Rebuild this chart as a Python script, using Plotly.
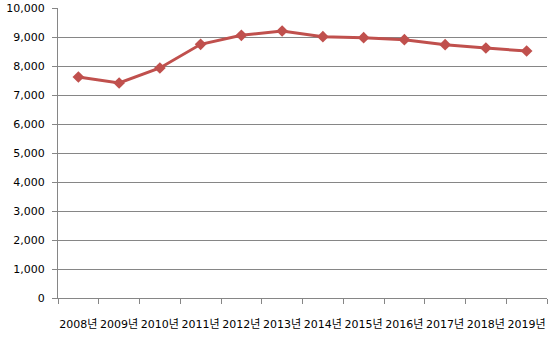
import plotly.graph_objects as go

years = ["2008년", "2009년", "2010년", "2011년", "2012년", "2013년",
         "2014년", "2015년", "2016년", "2017년", "2018년", "2019년"]
values = [7620, 7414, 7931, 8748, 9058, 9207, 9010, 8976, 8907, 8734, 8620, 8517]
y_ticks = [0, 1000, 2000, 3000, 4000, 5000, 6000, 7000, 8000, 9000, 10000]
y_tick_labels = ["0", "1,000", "2,000", "3,000", "4,000", "5,000", "6,000",
                 "7,000", "8,000", "9,000", "10,000"]

fig = go.Figure()
fig.add_trace(go.Scatter(
    x=years, y=values, mode="lines+markers",
    line=dict(color="#C0504D", width=3),
    marker=dict(symbol="diamond", size=9, color="#C0504D"),
    showlegend=False, cliponaxis=False,
))

font_family = "DejaVu Sans, Noto Sans CJK KR, sans-serif"
fig.update_layout(
    width=555, height=339,
    margin=dict(l=58, r=8, t=8, b=41, autoexpand=False),
    paper_bgcolor="white", plot_bgcolor="white",
    font=dict(family=font_family, size=11, color="black"),
)
fig.update_xaxes(
    type="category", tickson="boundaries", ticks="outside", ticklen=5,
    tickcolor="#868686", showline=True, linecolor="#868686", linewidth=1,
    showgrid=False, tickangle=0, ticklabelstandoff=16, automargin=False,
    range=[-0.5, len(years) - 0.5], tickfont=dict(size=11),
)
fig.update_yaxes(
    range=[0, 10000], tickvals=y_ticks, ticktext=y_tick_labels,
    ticks="outside", ticklen=5, tickcolor="#868686",
    showline=True, linecolor="#868686", linewidth=1, automargin=False,
    showgrid=True, gridcolor="#868686", gridwidth=1, zeroline=False,
    ticklabelstandoff=5, tickfont=dict(size=11),
)
fig.write_html("out.html")
